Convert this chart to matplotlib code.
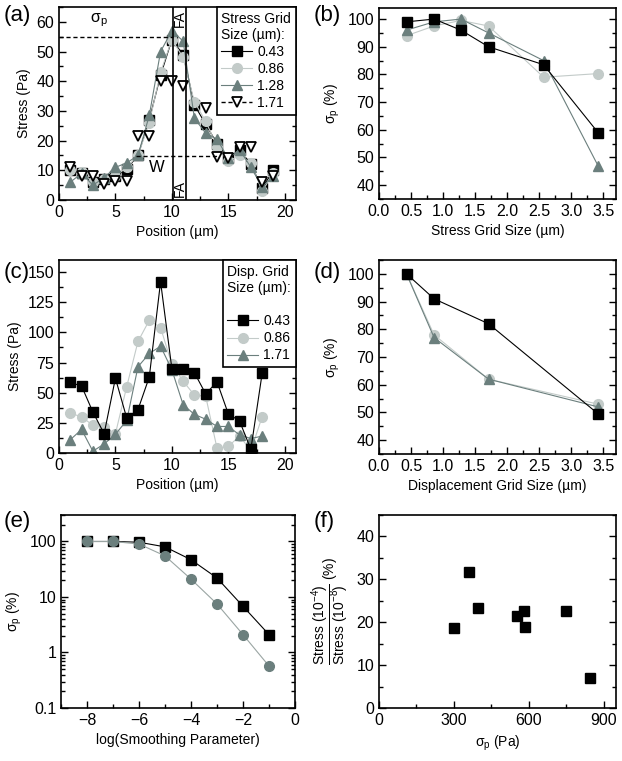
#Recreation of a six panel figure (stress / sigma_p analysis)

#Import modules
import numpy as np
import matplotlib
matplotlib.use("Agg")
import matplotlib.pyplot as plt
from matplotlib.lines import Line2D
from matplotlib.ticker import MultipleLocator, LogLocator, NullFormatter, FixedLocator

plt.rcParams['font.family'] = ['Liberation Sans', 'DejaVu Sans']
plt.rcParams['mathtext.fontset'] = 'custom'
plt.rcParams['mathtext.rm'] = 'Liberation Sans'
plt.rcParams['mathtext.it'] = 'Liberation Sans'

#Data: panel (a) stress profiles for several stress grid sizes
posA = [1, 2, 3, 4, 5, 6, 7, 8, 9, 10, 11, 12, 13, 14, 15, 16, 17, 18, 19]
a043 = [10, 9, 6, 7, 8, 10.5, 15, 27, 42, 54, 49, 32, 25.5, 19, 14, 17, 12, 4, 10]
a086 = [10, 9.5, 6, 7, 8, 11, 15, 26, 43, 54, 48, 33, 26.5, 18, 13, 15, 12.5, 3, 9]
a128 = [6, 9, 5, 7.5, 11, 12.5, 15, 28.5, 50, 57, 53.5, 27.5, 22.5, 20.5, 14, 17, 11, 4.5, 8]
posA171 = [1, 2, 3, 4, 5, 6, 7, 8, 9, 10, 11, 13, 14, 15, 16, 17, 18, 19]
a171 = [11, 8, 8, 5.5, 6.5, 6.5, 21.5, 21.5, 40, 40, 38.5, 31, 14.5, 14, 18, 18, 6, 8]
legendA = ['0.43', '0.86', '1.28', '1.71']

#Data: panel (b) sigma_p vs stress grid size
gridB = [0.43, 0.86, 1.28, 1.71, 2.57, 3.42]
bSquare = [99, 100, 96, 90, 83.5, 59]
bCircle = [94, 97.5, 99.5, 97.5, 79, 80.3]
bTriangle = [96, 99, 100, 95, 85, 47]

#Data: panel (c) stress profiles for several displacement grid sizes
posC = [1, 2, 3, 4, 5, 6, 7, 8, 9, 10, 11, 12, 13, 14, 15, 16, 17, 18]
c043 = [58.5, 55.5, 34, 16, 62, 29, 36, 63, 142, 70, 70, 66.5, 49, 59, 32.5, 26.5, 3, 66]
c086 = [33, 30, 23, 21.5, 16, 55, 92.5, 110, 104, 73.5, 59.5, 48, 47, 4, 5.5, 14, 2, 30]
c171 = [11, 19.5, 1.5, 7.5, 15.5, 27, 71.5, 82.5, 88.5, 69, 40, 32, 28, 22, 22, 15, 12, 14]
legendC = ['0.43', '0.86', '1.71']

#Data: panel (d) sigma_p vs displacement grid size
gridD = [0.43, 0.86, 1.71, 3.42]
dSquare = [100, 91, 82, 49.5]
dCircle = [100, 78, 62, 53]
dTriangle = [100, 77, 62, 52]

#Data: panel (e) sigma_p vs log(smoothing parameter)
smoothE = [-8, -7, -6, -5, -4, -3, -2, -1]
eSquare = [100, 100, 97, 80, 47, 22, 6.8, 2.1]
eCircle = [100, 100, 90, 55, 21, 7.5, 2.1, 0.57]

#Data: panel (f) stress ratio vs sigma_p
sigmaF = [300, 362, 396, 553, 580, 587, 748, 846]
ratioF = [18.7, 31.7, 23.2, 21.5, 22.7, 18.8, 22.7, 7.1]

#Colors
BLACK = '#000000'
LIGHT = '#c3cbc9'
DARK = '#6b7f7d'

#Shared styling
TICK_FS = 11.5
LABEL_FS = 10
LEG_FS = 10


def style_axes(ax):
    for s in ax.spines.values():
        s.set_linewidth(1.2)
    ax.tick_params(which='both', direction='in', right=True, top=False,
                   labelsize=TICK_FS, width=1.0)
    ax.tick_params(which='major', length=5)
    ax.tick_params(which='minor', length=2.8)


def panel_label(fig, x, y, txt):
    fig.text(x / 622, 1 - y / 761, txt, fontsize=16, ha='left', va='center')


def axes_px(fig, left, right, top, bottom):
    return fig.add_axes([left / 622, 1 - bottom / 761, (right - left) / 622, (bottom - top) / 761])


def boxed_legend(ax, handles, labels, title):
    leg = ax.legend(handles, labels, title=title, loc='upper right',
                    fontsize=LEG_FS, title_fontsize=LEG_FS, frameon=True, fancybox=False,
                    edgecolor=BLACK, framealpha=1, borderaxespad=0, handlelength=2.2,
                    labelspacing=0.22, borderpad=0.35, handletextpad=0.4)
    leg.get_frame().set_linewidth(1.2)
    leg._legend_box.align = 'left'
    return leg


fig = plt.figure(figsize=(6.22, 7.61), dpi=100)

#Panel (a)
axA = axes_px(fig, 59, 296, 7, 200)
axA.plot(posA, a043, color=BLACK, lw=0.8, marker='s', ms=6.5, mfc=BLACK, mec=BLACK, label=legendA[0])
axA.plot(posA, a086, color=LIGHT, lw=0.8, marker='o', ms=7, mfc=LIGHT, mec=LIGHT, label=legendA[1])
axA.plot(posA, a128, color=DARK, lw=0.8, marker='^', ms=7.5, mfc=DARK, mec=DARK, label=legendA[2])
axA.plot(posA171, a171, ls='none', marker='v', ms=7.5, mfc='white', mec=BLACK, mew=1.3)
#Focal adhesion region and the peak / width guides
axA.axvline(10.1, color=BLACK, lw=1.2)
axA.axvline(11.25, color=BLACK, lw=1.2)
axA.plot([0, 10.1], [55, 55], color=BLACK, lw=1.0, ls=(0, (3, 2)))
axA.plot([6.85, 14.0], [14.7, 14.7], color=BLACK, lw=1.0, ls=(0, (3, 2)))
axA.text(3.5, 60.5, r'σ$_\mathrm{p}$', fontsize=LABEL_FS + 1.5, ha='center', va='center')
axA.text(8.7, 11, 'W', fontsize=LABEL_FS + 2, ha='center', va='center')
axA.text(10.7, 61, 'FA', fontsize=LABEL_FS, rotation=90, ha='center', va='center')
axA.text(10.7, 4, 'FA', fontsize=LABEL_FS, rotation=90, ha='center', va='center')
axA.set_xlim(0, 21)
axA.set_ylim(0, 65)
axA.xaxis.set_major_locator(FixedLocator([0, 5, 10, 15, 20]))
axA.xaxis.set_minor_locator(MultipleLocator(2.5))
axA.yaxis.set_major_locator(MultipleLocator(10))
axA.yaxis.set_minor_locator(MultipleLocator(5))
axA.set_xlabel('Position (µm)', fontsize=LABEL_FS)
axA.set_ylabel('Stress (Pa)', fontsize=LABEL_FS)
style_axes(axA)
handlesA = axA.get_legend_handles_labels()[0]
handlesA.append(Line2D([], [], color=BLACK, lw=1.0, ls=(0, (3, 2)), marker='v', ms=7.5,
                       mfc='white', mec=BLACK, mew=1.3))
boxed_legend(axA, handlesA, legendA, 'Stress Grid\nSize (µm):')
panel_label(fig, 4, 15, '(a)')

#Panel (b)
axB = axes_px(fig, 379, 616, 8, 199)
axB.plot(gridB, bCircle, color=LIGHT, lw=0.8, marker='o', ms=7, mfc=LIGHT, mec=LIGHT)
axB.plot(gridB, bTriangle, color=DARK, lw=0.8, marker='^', ms=7.5, mfc=DARK, mec=DARK)
axB.plot(gridB, bSquare, color=BLACK, lw=0.8, marker='s', ms=6.5, mfc=BLACK, mec=BLACK)
axB.set_xlim(0, 3.7)
axB.set_ylim(35, 104)
axB.xaxis.set_major_locator(MultipleLocator(0.5))
axB.xaxis.set_minor_locator(MultipleLocator(0.25))
axB.yaxis.set_major_locator(FixedLocator([40, 50, 60, 70, 80, 90, 100]))
axB.yaxis.set_minor_locator(MultipleLocator(5))
axB.set_xlabel('Stress Grid Size (µm)', fontsize=LABEL_FS)
axB.set_ylabel(r'σ$_\mathrm{p}$ (%)', fontsize=LABEL_FS)
style_axes(axB)
panel_label(fig, 314, 15, '(b)')

#Panel (c)
axC = axes_px(fig, 59, 296, 260, 453)
axC.plot(posC, c086, color=LIGHT, lw=0.8, marker='o', ms=7, mfc=LIGHT, mec=LIGHT, label=legendC[1])
axC.plot(posC, c171, color=DARK, lw=0.8, marker='^', ms=7.5, mfc=DARK, mec=DARK, label=legendC[2])
axC.plot(posC, c043, color=BLACK, lw=0.8, marker='s', ms=6.5, mfc=BLACK, mec=BLACK, label=legendC[0])
axC.set_xlim(0, 21)
axC.set_ylim(0, 160)
axC.xaxis.set_major_locator(FixedLocator([0, 5, 10, 15, 20]))
axC.xaxis.set_minor_locator(MultipleLocator(2.5))
axC.yaxis.set_major_locator(MultipleLocator(25))
axC.yaxis.set_minor_locator(MultipleLocator(12.5))
axC.set_xlabel('Position (µm)', fontsize=LABEL_FS)
axC.set_ylabel('Stress (Pa)', fontsize=LABEL_FS)
style_axes(axC)
hC, lC = axC.get_legend_handles_labels()
orderC = [2, 0, 1]
boxed_legend(axC, [hC[i] for i in orderC], [lC[i] for i in orderC], 'Disp. Grid\nSize (µm):\n')
panel_label(fig, 4, 272, '(c)')

#Panel (d)
axD = axes_px(fig, 379, 616, 260, 454)
axD.plot(gridD, dCircle, color=LIGHT, lw=0.8, marker='o', ms=7, mfc=LIGHT, mec=LIGHT)
axD.plot(gridD, dTriangle, color=DARK, lw=0.8, marker='^', ms=7.5, mfc=DARK, mec=DARK)
axD.plot(gridD, dSquare, color=BLACK, lw=0.8, marker='s', ms=6.5, mfc=BLACK, mec=BLACK)
axD.set_xlim(0, 3.7)
axD.set_ylim(35, 105)
axD.xaxis.set_major_locator(MultipleLocator(0.5))
axD.xaxis.set_minor_locator(MultipleLocator(0.25))
axD.yaxis.set_major_locator(FixedLocator([40, 50, 60, 70, 80, 90, 100]))
axD.yaxis.set_minor_locator(MultipleLocator(5))
axD.set_xlabel('Displacement Grid Size (µm)', fontsize=LABEL_FS)
axD.set_ylabel(r'σ$_\mathrm{p}$ (%)', fontsize=LABEL_FS)
style_axes(axD)
panel_label(fig, 314, 272, '(d)')

#Panel (e)
axE = axes_px(fig, 61, 295, 515, 708)
axE.plot(smoothE, eSquare, color=BLACK, lw=0.8, marker='s', ms=6.5, mfc=BLACK, mec=BLACK)
axE.plot(smoothE, eCircle, color='#9aa5a3', lw=0.8, marker='o', ms=7, mfc=DARK, mec=DARK)
axE.set_yscale('log')
axE.set_xlim(-9, 0)
axE.set_ylim(0.1, 300)
axE.xaxis.set_major_locator(MultipleLocator(2))
axE.xaxis.set_minor_locator(MultipleLocator(1))
axE.yaxis.set_major_locator(FixedLocator([0.1, 1, 10, 100]))
axE.yaxis.set_major_formatter(plt.FuncFormatter(lambda v, p: '%g' % v))
axE.yaxis.set_minor_locator(LogLocator(base=10, subs=np.arange(2, 10)))
axE.yaxis.set_minor_formatter(NullFormatter())
axE.set_xlabel('log(Smoothing Parameter)', fontsize=LABEL_FS)
axE.set_ylabel(r'σ$_\mathrm{p}$ (%)', fontsize=LABEL_FS)
style_axes(axE)
panel_label(fig, 4, 522, '(e)')

#Panel (f)
axF = axes_px(fig, 379, 616, 515, 708)
axF.plot(sigmaF, ratioF, ls='none', marker='s', ms=6.5, mfc=BLACK, mec=BLACK)
axF.set_xlim(0, 950)
axF.set_ylim(0, 45)
axF.xaxis.set_major_locator(MultipleLocator(300))
axF.xaxis.set_minor_locator(MultipleLocator(150))
axF.yaxis.set_major_locator(MultipleLocator(10))
axF.yaxis.set_minor_locator(MultipleLocator(5))
axF.set_xlabel(r'σ$_\mathrm{p}$ (Pa)', fontsize=LABEL_FS)
axF.set_ylabel(r'$\dfrac{\mathrm{Stress\ (10^{-4})}}{\mathrm{Stress\ (10^{-8})}}$ (%)', fontsize=LABEL_FS)
style_axes(axF)
panel_label(fig, 314, 522, '(f)')

fig.savefig('out.png', dpi=100)
